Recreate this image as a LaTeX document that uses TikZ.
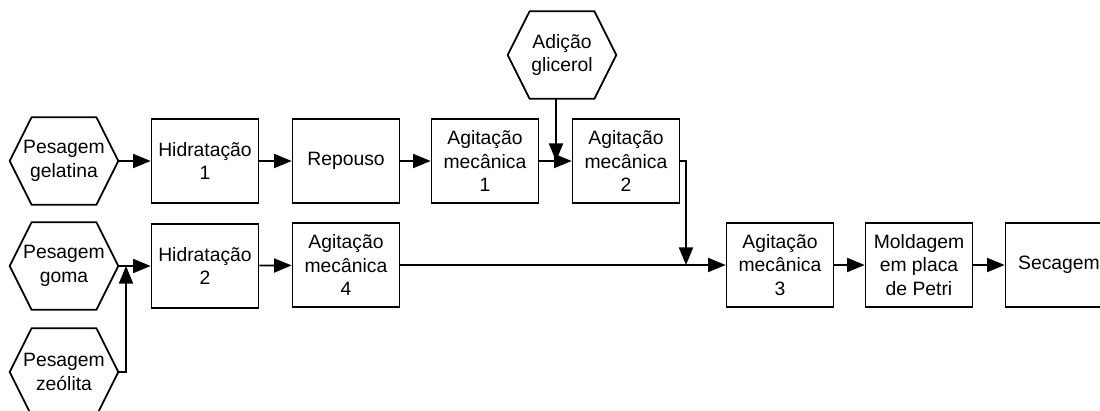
\documentclass[tikz,border=0pt]{standalone}
\usepackage{fontspec}
\setmainfont{Liberation Sans}
\usetikzlibrary{arrows.meta}
\tikzset{
  etapa/.style={draw,line width=1pt,minimum width=2.14cm,minimum height=1.68cm,
    inner sep=1pt,align=center,font=\fontsize{11}{13.6}\selectfont},
  hexa/.style={minimum width=2.16cm,minimum height=1.74cm,inner sep=0pt,
    align=center,font=\fontsize{11}{13.6}\selectfont},
  seta/.style={line width=1pt,-{Triangle[length=10pt,width=8pt]}}
}
\begin{document}
\begin{tikzpicture}[x=0.02cm,y=-0.02cm]
\useasboundingbox (0,0) rectangle (1100,410);
% materias-primas
  \node[hexa] (pg) at (64,161) {Pesagem\\gelatina};
  \node[hexa] (pm) at (64,266) {Pesagem\\goma};
  \node[hexa] (pz) at (64,372) {Pesagem\\zeólita};
  \node[hexa] (ag) at (562,55) {Adição\\glicerol};
\foreach \n in {pg,pm,pz,ag}
  \draw [line width=1pt] (\n.west) to ([xshift=0.44cm]\n.north west) to ([xshift=-0.44cm]\n.north east)
    to (\n.east) to ([xshift=-0.44cm]\n.south east) to ([xshift=0.44cm]\n.south west) to cycle;

% etapas
  \node[etapa] (h1) at (205,161) {Hidratação\\1};
  \node[etapa] (rep) at (346,161) {Repouso};
  \node[etapa] (a1) at (485,161) {Agitação\\mecânica\\1};
  \node[etapa] (a2) at (626,161) {Agitação\\mecânica\\2};
  \node[etapa] (h2) at (205,266) {Hidratação\\2};
  \node[etapa] (a4) at (346,265) {Agitação\\mecânica\\4};
  \node[etapa] (a3) at (780,265) {Agitação\\mecânica\\3};
  \node[etapa] (mold) at (919,265) {Moldagem\\em placa\\de Petri};
  \node[etapa] (sec) at (1059,265) {Secagem};

  \coordinate (j1) at (556,161);
  \coordinate (j2) at (686,265);
  \coordinate (j3) at (126,266);

\draw [seta] (pg) to (h1);
\draw [seta] (h1) to (rep);
\draw [seta] (rep) to (a1);
\draw [seta] (a1) to (a2);
\draw [seta] (ag.south -| j1) to (j1);
\draw [seta] (a2.east) -| (j2);
\draw [seta] (pm) to (h2);
\draw [seta] (pz.east) -| (j3);
\draw [seta] (h2) to (a4);
\draw [seta] (a4) to (a3);
\draw [seta] (a3) to (mold);
\draw [seta] (mold) to (sec);
\end{tikzpicture}
\end{document}
